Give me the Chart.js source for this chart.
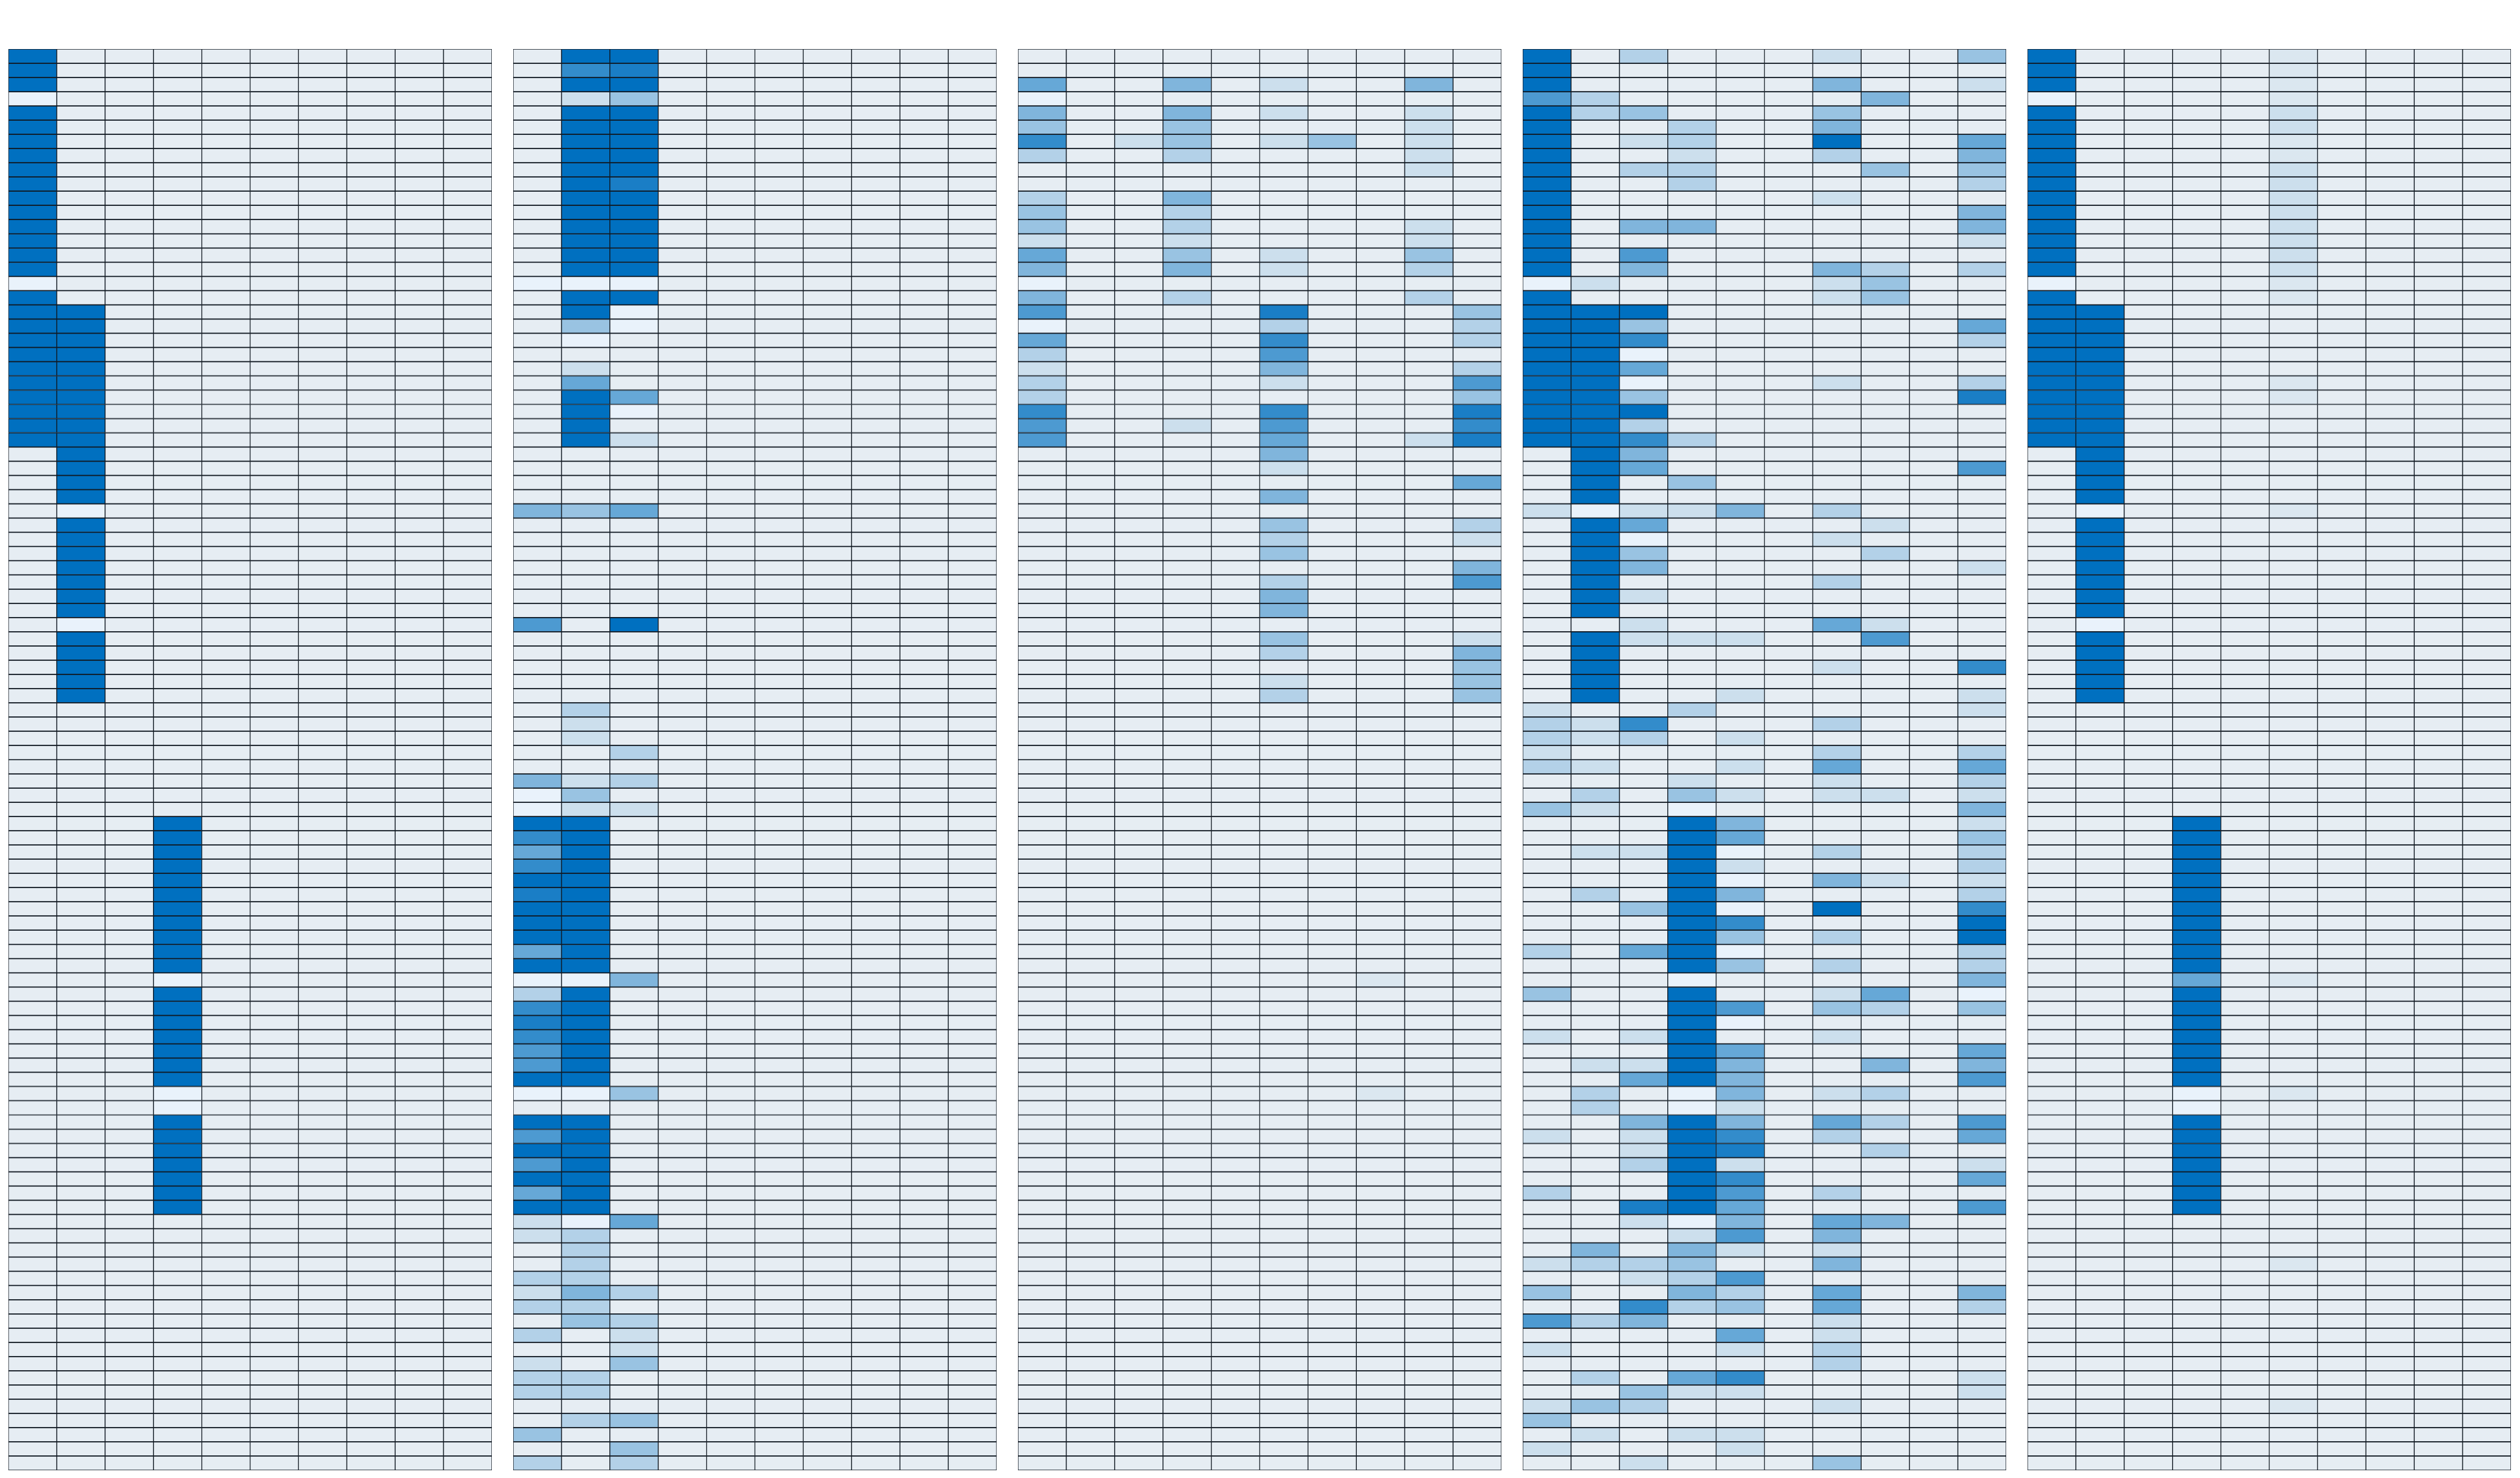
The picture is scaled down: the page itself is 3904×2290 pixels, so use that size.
<!DOCTYPE html>
<html lang="en">
<head>
    <meta charset="UTF-8">
    <title>Heatmap panels</title>
    <script src="https://cdn.jsdelivr.net/npm/chart.js"></script>
    <style>
        body { margin: 0; background: #ffffff; width: 3904px; height: 2290px; position: relative; overflow: hidden; }
        canvas { position: absolute; }
    </style>
</head>
<body>
    <script>
        // one string per row, one character per column
        // 0-9 = intensity in ninths, f = faint, . = empty cell
        const columns = ['1', '2', '3', '4', '5', '6', '7', '8', '9', '10'];

        const panel1Rows = [
            "9000000000", "9000000000", "9000000000", ".000000000", "9000000000",
            "9000000000", "9000000000", "9000000000", "9000000000", "9000000000",
            "9000000000", "9000000000", "9000000000", "9000000000", "9000000000",
            "9000000000", ".000000000", "9000000000", "9900000000", "9900000000",
            "9900000000", "9900000000", "9900000000", "9900000000", "9900000000",
            "9900000000", "9900000000", "9900000000", "0900000000", "0900000000",
            "0900000000", "0900000000", "0.00000000", "0900000000", "0900000000",
            "0900000000", "0900000000", "0900000000", "0900000000", "0900000000",
            "0.00000000", "0900000000", "0900000000", "0900000000", "0900000000",
            "0900000000", "0000000000", "0000000000", "0000000000", "0000000000",
            "0000000000", "0000000000", "0000000000", "0000000000", "0009000000",
            "0009000000", "0009000000", "0009000000", "0009000000", "0009000000",
            "0009000000", "0009000000", "0009000000", "0009000000", "0009000000",
            "000.000000", "0009000000", "0009000000", "0009000000", "0009000000",
            "0009000000", "0009000000", "0009000000", "000.000000", "000.000000",
            "0009000000", "0009000000", "0009000000", "0009000000", "0009000000",
            "0009000000", "0009000000", "0000000000", "0000000000", "0000000000",
            "0000000000", "0000000000", "0000000000", "0000000000", "0000000000",
            "0000000000", "0000000000", "0000000000", "0000000000", "0000000000",
            "0000000000", "0000000000", "0000000000", "0000000000", "0000000000"
        ];

        const panel2Rows = [
            "0990000000", "0780000000", "0990000000", "0130000000", "0990000000",
            "0990000000", "0990000000", "0990000000", "0990000000", "0980000000",
            "0990000000", "0990000000", "0990000000", "0990000000", "0990000000",
            "0990000000", "...0000000", "0990000000", "09.0000000", "03.0000000",
            "0.00000000", "0000000000", "0100000000", "0500000000", "0950000000",
            "09.0000000", "0900000000", "0910000000", "0000000000", "0000000000",
            "0000000000", "0000000000", "4350000000", "0000000000", "0000000000",
            "0000000000", "0000000000", "0000000000", "0000000000", "0000000000",
            "6090000000", "0000000000", "0000000000", "0000000000", "0000000000",
            "0000000000", "0200000000", "0100000000", "0100000000", "0020000000",
            "0000000000", "4120000000", ".300000000", ".110000000", "9900000000",
            "7900000000", "5900000000", "7900000000", "9900000000", "8900000000",
            "9900000000", "9900000000", "9900000000", "5900000000", "9900000000",
            "..40000000", "2900000000", "7900000000", "8900000000", "7900000000",
            "6900000000", "6900000000", "9900000000", "..30000000", "0000000000",
            "9900000000", "6900000000", "9900000000", "6900000000", "9900000000",
            "5900000000", "9900000000", "1.50000000", "1200000000", "0200000000",
            "0200000000", "2200000000", "1420000000", "2200000000", "0320000000",
            "2010000000", "0010000000", "1030000000", "2200000000", "2200000000",
            "0000000000", "0230000000", "3000000000", "0030000000", "2020000000"
        ];

        const panel3Rows = [
            "0000000000", "0000000000", "5004010040", ".000000000", "4004010010",
            "3003000010", "7013013010", "2002000010", "0000000010", "0000000000",
            "2004000000", "3002000000", "3002000010", "1001000010", "5003010030",
            "4004010020", ".000000000", "4002000020", "6000080003", ".000020002",
            "5000070002", "2000060000", "1000040002", "2000010006", "2000000003",
            "7000070008", "6001060007", "6000050018", "0000040000", "0000010000",
            "0000000005", "0000040000", "0000000000", "0000030002", "0000020001",
            "0000030000", "0000000004", "0000020006", "0000040000", "0000040000",
            "0000000000", "0000030001", "0000020004", "0000000003", "0000010003",
            "0000020003", "0000000000", "0000000000", "0000000000", "0000000000",
            "0000000000", "0000000000", "0000000000", "0000000000", "0000000000",
            "0000000000", "0000000000", "0000000000", "0000000000", "0000000000",
            "0000000000", "0000000000", "0000000000", "0000000000", "0000000000",
            "0000000f00", "0000000000", "0000000000", "0000000000", "0000000000",
            "0000000000", "0000000000", "0000000000", "0000000f00", "0000000000",
            "0000000000", "0000000000", "0000000000", "0000000000", "0000000000",
            "0000000000", "0000000000", "0000000000", "0000000000", "0000000000",
            "0000000000", "0000000000", "0000000000", "0000000000", "0000000000",
            "0000000000", "0000000000", "0000000000", "0000000000", "0000000000",
            "0000000000", "0000000000", "0000000000", "0000000000", "0000000000"
        ];

        const panel4Rows = [
            "9020001003", "9000000000", "9000004001", "6200000400", "9230003000",
            "9002004000", "9012009005", "9001002004", "9022000303", "9002000002",
            "9000001000", "9000000004", "9044000004", "9000000001", "9060000000",
            "9040004202", ".100001300", "9000001300", "9990000000", "9930000005",
            "9970000002", "99.0000000", "9950000000", "99.0001002", "9930000008",
            "9990000000", "9920000000", "9972000000", "0940000000", "0950000006",
            "0903000000", "0900000000", "1.11402000", "0950000100", "09.0001000",
            "0930000200", "0940000001", "0900002000", "0910000000", "0900000000",
            "0010005100", "0911100600", "0900000000", "0900001007", "0900000000",
            "0900100001", "1002000001", "2170002000", "2120100000", "1000002002",
            "2100105005", "0001001002", "0203101101", "310.000004", "0009400001",
            "0009500003", "0119.02002", "0009100002", "0009.04101", "0209400002",
            "0039.09007", "0009700009", "0009302009", "2059.00002", "0009302002",
            "000.000004", "300900150.", "0009603203", "0009.00000", "1019001000",
            "0009500005", "0119400404", "0059400006", "020.401200", "020.100000",
            "0049405206", "1019702005", "0019800200", "0029100001", "0009700005",
            "2009602000", "0089500006", "001.405400", "0001604000", "0404101000",
            "1223004000", "0012600000", "3004205004", "0072305002", "6240001000",
            "0000501000", "1000102000", "0000002000", "0205700001", "0031100001",
            "1320001000", "3000000000", "0101100000", "1000100000", "0010003000"
        ];

        const panel5Rows = [
            "90000f0000", "90000f0000", "90000f0000", ".0000f0000", "9000010000",
            "9000010000", "90000f0000", "90000f0000", "9000010000", "9000010000",
            "9000010000", "9000010000", "9000010000", "9000010000", "9000010000",
            "9000010000", ".0000f0000", "90000f0000", "9900000000", "9900000000",
            "9900000000", "9900000000", "9900000000", "99000f0000", "99000f0000",
            "9900000000", "9900000000", "9900000000", "0900000000", "0900000000",
            "0900000000", "0900000000", "0.000f0000", "0900000000", "0900000000",
            "0900000000", "0900000000", "0900000000", "0900000000", "0900000000",
            "0.00000000", "0900000000", "0900000000", "0900000000", "0900000000",
            "0900000000", "0000000000", "0000000000", "0000000000", "0000000000",
            "0000000000", "0000000000", "0000000000", "0000000000", "0009000000",
            "0009000000", "0009000000", "0009000000", "0009000000", "0009000000",
            "0009000000", "0009000000", "0009000000", "0009000000", "0009000000",
            "00050f0000", "0009000000", "0009000000", "0009000000", "0009000000",
            "0009000000", "0009000000", "0009000000", "000.0f0000", "000.000000",
            "0009000000", "0009000000", "0009000000", "0009000000", "0009000000",
            "0009000000", "0009000000", "0000000000", "0000000000", "0000000000",
            "00000f0000", "0000000000", "0000000000", "0000000000", "0000000000",
            "0000000000", "0000000000", "0000000000", "0000000000", "0000000000",
            "00000f0000", "0000000000", "0000000000", "0000000000", "0000000000"
        ];

        const panels = [panel1Rows, panel2Rows, panel3Rows, panel4Rows, panel5Rows];

        const baseRGB = [230, 237, 243];
        const fullRGB = [0, 112, 192];
        const emptyColor = '#e9f2fb';

        function cellValue(ch) {
            if (ch === '.') return null;
            if (ch === 'f') return 0.05;
            return Number(ch) / 9;
        }

        function cellColor(v) {
            if (v === null) return emptyColor;
            const c = baseRGB.map((b, i) => Math.round(b + (fullRGB[i] - b) * v));
            return 'rgb(' + c.join(',') + ')';
        }

        const panelLeft = 13, panelStep = 782, panelTop = 76;
        const panelWidth = 749, panelHeight = 2202;

        panels.forEach((rows, p) => {
            const canvas = document.createElement('canvas');
            canvas.width = panelWidth;
            canvas.height = panelHeight;
            canvas.style.left = (panelLeft + p * panelStep) + 'px';
            canvas.style.top = panelTop + 'px';
            canvas.style.width = panelWidth + 'px';
            canvas.style.height = panelHeight + 'px';
            document.body.appendChild(canvas);

            // each row is one stacked dataset of height 1
            const datasets = rows.map((row) => ({
                data: columns.map(() => 1),
                backgroundColor: columns.map((c, j) => cellColor(cellValue(row[j]))),
                borderColor: '#111922',
                borderWidth: { top: 1.2, bottom: 1.2, left: 1, right: 1 },
                borderSkipped: false,
                barPercentage: 1,
                categoryPercentage: 1
            }));

            new Chart(canvas.getContext('2d'), {
                type: 'bar',
                data: { labels: columns, datasets: datasets },
                options: {
                    responsive: false,
                    animation: false,
                    layout: { padding: 0 },
                    plugins: { legend: { display: false }, tooltip: { enabled: false } },
                    scales: {
                        x: { stacked: true, display: false },
                        y: { stacked: true, display: false, min: 0, max: rows.length, reverse: true }
                    }
                }
            });
        });
    </script>
</body>
</html>
